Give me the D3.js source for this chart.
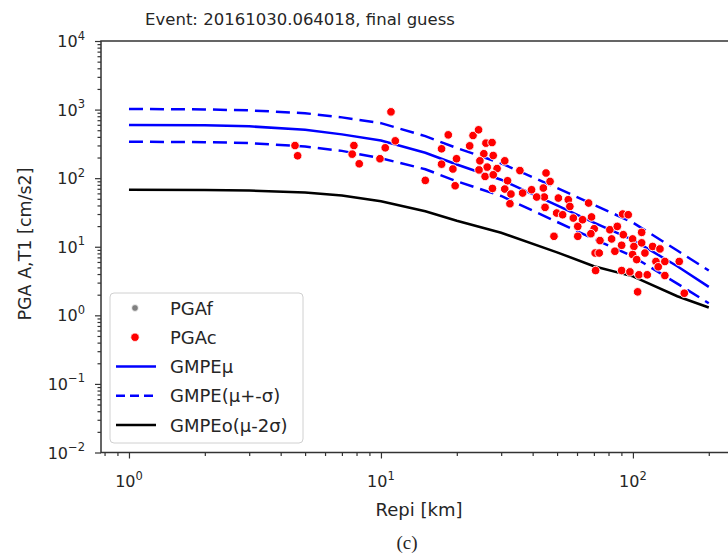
<!DOCTYPE html>
<html>
<head>
<meta charset="utf-8">
<script src="https://cdn.jsdelivr.net/npm/d3@7"></script>
<style>
  body { margin: 0; background: #fff; }
  svg { display: block; }
  text { font-family: "DejaVu Sans", sans-serif; fill: #262626; }
</style>
</head>
<body>
<script>
// ---- data ----
const titleText = "Event: 20161030.064018, final guess";
const xLabel = "Repi [km]";
const yLabel = "PGA A,T1 [cm/s2]";
const caption = "(c)";

const xTickExps = [0, 1, 2];
const yTickExps = [-2, -1, 0, 1, 2, 3, 4];

// GMPE curves
const curveRepi = [1, 2, 3, 5, 7, 10, 15, 20, 30, 50, 70, 100, 150, 200];
const gmpeMu    = [598, 590, 570, 507, 435, 354, 235, 158, 95, 40, 22.5, 12.6, 5.2, 2.6];
const gmpeUp    = [1020, 1005, 975, 885, 770, 634, 410, 275, 165, 72, 41, 22.5, 8.8, 4.5];
const gmpeLo    = [340, 335, 325, 290, 250, 195, 135, 90, 55, 23, 13, 7.2, 2.9, 1.5];
const gmpeO     = [67.8, 67, 66, 62, 56, 46, 33, 24, 16, 8.3, 5.2, 3.7, 1.9, 1.3];

// PGAc stations
const pgacRepi = [4.56, 4.67, 7.81, 7.69, 8.2, 9.91, 10.4, 10.96, 11.4, 15.0,
  17.4, 18.5, 17.4, 19.3, 19.95, 19.7, 22.5, 23.2, 24.4, 26.1,
  27.6, 25.6, 27.9, 24.7, 26.4, 28.9, 24.5, 25.9, 27.9, 31.0,
  27.7, 31.8, 31.0, 32.8, 32.5, 35.6, 36.5, 39.6, 45.2, 46.9,
  44.1, 44.5, 41.5, 50.6, 44.8, 49.8, 52.6, 48.6, 55.4, 56.2,
  58.0, 60.4, 60.4, 63.1, 66.7, 68.5, 70.2, 68.1, 74.0, 70.8,
  73.5, 71.1, 81.0, 86.7, 82.3, 91.0, 95.8, 91.6, 90.2, 84.8,
  99.7, 100.9, 99.7, 103.5, 108.3, 108.3, 111.6, 119.7, 128.0, 123.4,
  126.0, 133.9, 152.7, 90.2, 97.3, 105.6, 114.0, 104.4, 133.9, 159.9];
const pgacVal = [299, 212, 299, 224, 162, 192, 277, 927, 350, 92.7,
  268, 428, 160, 136, 192, 77.5, 296, 419, 507, 324,
  331, 227, 214, 179, 145, 138, 132, 106, 112, 179,
  70.8, 91.7, 69.4, 58.7, 42.4, 129, 60.7, 67.8, 119, 89.6,
  71.8, 53.1, 53.1, 51.3, 37.5, 31.0, 29.3, 14.2, 48.5, 38.7,
  26.2, 19.8, 14.2, 24.8, 43.4, 27.2, 18.3, 15.5, 12.3, 8.1,
  8.1, 4.5, 17.7, 19.8, 13.0, 30.0, 29.3, 15.0, 10.5, 8.6,
  13.0, 10.1, 7.7, 6.5, 16.2, 11.4, 8.1, 10.1, 9.3, 6.1,
  5.1, 6.1, 6.1, 4.5, 4.3, 3.9, 3.9, 2.2, 3.8, 2.1];

const legendItems = [
  { label: "PGAf", kind: "dot", color: "#808080" },
  { label: "PGAc", kind: "dot", color: "#ff0000" },
  { label: "GMPEμ", kind: "line", color: "#0000ff", dash: null },
  { label: "GMPE(μ+-σ)", kind: "line", color: "#0000ff", dash: "9,5" },
  { label: "GMPEo(μ-2σ)", kind: "line", color: "#000000", dash: null }
];

// ---- layout ----
const W = 728, H = 554;
const plot = { left: 101, right: 738, top: 41, bottom: 452.5 };

const svg = d3.select(document.body).append("svg")
  .attr("width", W).attr("height", H);

const x = d3.scaleLog()
  .domain([Math.pow(10, -0.111), Math.pow(10, 2.417)])
  .range([plot.left, plot.right]);
const y = d3.scaleLog()
  .domain([1e-2, 1e4])
  .range([plot.bottom, plot.top]);

svg.append("defs").append("clipPath").attr("id", "clip")
  .append("rect")
  .attr("x", plot.left).attr("y", plot.top)
  .attr("width", plot.right - plot.left).attr("height", plot.bottom - plot.top);

// ---- ticks ----
function minorTicks(scale, e0, e1) {
  const out = [];
  const [d0, d1] = scale.domain();
  for (let e = e0; e <= e1; e++) {
    for (let k = 2; k <= 9; k++) {
      const v = k * Math.pow(10, e);
      if (v >= d0 && v <= d1) out.push(v);
    }
  }
  return out;
}
const xMinor = minorTicks(x, -1, 2);
const yMinor = minorTicks(y, -2, 3);
const xMajor = xTickExps.map(e => Math.pow(10, e));
const yMajor = yTickExps.map(e => Math.pow(10, e));

const axisColor = "#333";

const yAx = svg.append("g").attr("transform", `translate(${plot.left},0)`);
yAx.append("g").call(d3.axisLeft(y).tickValues(yMinor).tickSize(3.5).tickFormat(""));
yAx.append("g").call(d3.axisLeft(y).tickValues(yMajor).tickSize(6).tickFormat(""));
yAx.selectAll(".domain").remove();
yAx.selectAll("line").attr("stroke", axisColor).attr("stroke-width", 1.2);

const xAx = svg.append("g").attr("transform", `translate(0,${plot.bottom})`);
xAx.append("g").call(d3.axisBottom(x).tickValues(xMinor).tickSize(3.5).tickFormat(""));
xAx.append("g").call(d3.axisBottom(x).tickValues(xMajor).tickSize(6).tickFormat(""));
xAx.selectAll(".domain").remove();
xAx.selectAll("line").attr("stroke", axisColor).attr("stroke-width", 1.2);

function supLabel(sel, e) {
  sel.append("tspan").text("10");
  sel.append("tspan").attr("dy", -7.5).attr("font-size", 11.5)
    .text(e < 0 ? "\u2212" + (-e) : String(e));
}

svg.append("g").selectAll("text").data(yTickExps).join("text")
  .attr("x", plot.left - 16)
  .attr("y", e => y(Math.pow(10, e)) + 6)
  .attr("text-anchor", "end")
  .attr("font-size", 16)
  .each(function (e) { supLabel(d3.select(this), e); });

svg.append("g").selectAll("text").data(xTickExps).join("text")
  .attr("x", e => x(Math.pow(10, e)))
  .attr("y", plot.bottom + 34.5)
  .attr("text-anchor", "middle")
  .attr("font-size", 16)
  .each(function (e) { supLabel(d3.select(this), e); });

// ---- curves ----
const line = d3.line().x(d => x(d[0])).y(d => y(d[1]));
const body = svg.append("g").attr("clip-path", "url(#clip)");

const curves = [
  { vals: gmpeO, color: "#000000", dash: null },
  { vals: gmpeUp, color: "#0000ff", dash: "14,7" },
  { vals: gmpeLo, color: "#0000ff", dash: "14,7" },
  { vals: gmpeMu, color: "#0000ff", dash: null }
];
curves.forEach(c => {
  body.append("path")
    .datum(curveRepi.map((r, i) => [r, c.vals[i]]))
    .attr("d", line)
    .attr("fill", "none")
    .attr("stroke", c.color)
    .attr("stroke-width", 2.5)
    .attr("stroke-dasharray", c.dash);
});

// ---- PGAc points ----
body.append("g").selectAll("circle")
  .data(pgacRepi.map((r, i) => [r, pgacVal[i]]))
  .join("circle")
  .attr("cx", d => x(d[0]))
  .attr("cy", d => y(d[1]))
  .attr("r", 4.3)
  .attr("fill", "#ff0000")
  .attr("stroke", "#fff")
  .attr("stroke-width", 0.9);

// ---- frame ----
svg.append("rect")
  .attr("x", plot.left).attr("y", plot.top)
  .attr("width", plot.right - plot.left).attr("height", plot.bottom - plot.top)
  .attr("fill", "none").attr("stroke", axisColor).attr("stroke-width", 1.5);

// ---- legend ----
const lg = svg.append("g");
lg.append("rect")
  .attr("x", 110).attr("y", 293).attr("width", 193).attr("height", 150)
  .attr("rx", 4)
  .attr("fill", "#fff").attr("fill-opacity", 0.85)
  .attr("stroke", "#d0d0d0").attr("stroke-width", 1);

const rowY = d3.scalePoint().domain(legendItems.map(d => d.label)).range([308, 425]);
legendItems.forEach(item => {
  const cy = rowY(item.label);
  if (item.kind === "dot") {
    lg.append("circle").attr("cx", 135).attr("cy", cy)
      .attr("r", item.color === "#ff0000" ? 4.2 : 3.4)
      .attr("fill", item.color)
      .attr("stroke", "#fff").attr("stroke-width", 0.8);
  } else {
    lg.append("line")
      .attr("x1", 116).attr("x2", 156).attr("y1", cy).attr("y2", cy)
      .attr("stroke", item.color).attr("stroke-width", 2.5)
      .attr("stroke-dasharray", item.dash);
  }
  lg.append("text").attr("x", 170).attr("y", cy + 6.5)
    .attr("font-size", 18).text(item.label);
});

// ---- titles ----
svg.append("text").attr("x", 300).attr("y", 25)
  .attr("text-anchor", "middle").attr("font-size", 16.5).text(titleText);

svg.append("text").attr("x", 419).attr("y", 516)
  .attr("text-anchor", "middle").attr("font-size", 18).text(xLabel);

svg.append("text")
  .attr("transform", `translate(30.5,244) rotate(-90)`)
  .attr("text-anchor", "middle").attr("font-size", 17.5).text(yLabel);

svg.append("text").attr("x", 407).attr("y", 549)
  .attr("text-anchor", "middle")
  .style("font-family", "'Liberation Serif', 'Times New Roman', serif")
  .attr("font-size", 19).text(caption);
</script>
</body>
</html>
